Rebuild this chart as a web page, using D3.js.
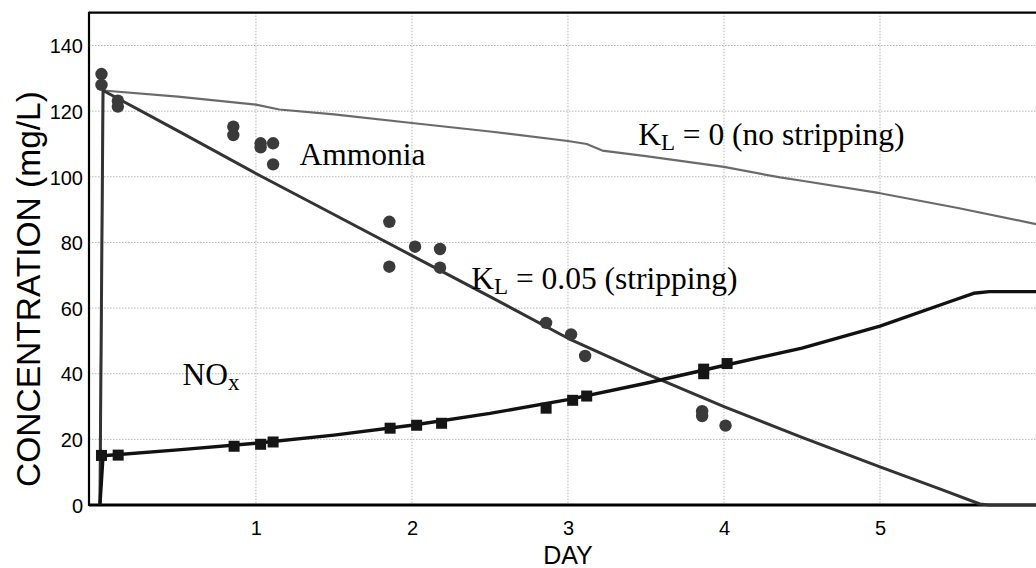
<!DOCTYPE html>
<html>
<head>
<meta charset="utf-8">
<script src="https://cdn.jsdelivr.net/npm/d3@7"></script>
<style>
  html, body { margin: 0; padding: 0; background: #fff; }
  svg { display: block; }
</style>
</head>
<body>
<svg id="chart" width="1036" height="568"></svg>
<script>
// Measured ammonia (circles) and NOx (squares), day vs mg/L
const ammoniaDays = [0.01, 0.01, 0.115, 0.115, 0.855, 0.855, 1.03, 1.03, 1.11, 1.11, 1.855, 1.855, 2.02, 2.18, 2.18, 2.86, 3.02, 3.11, 3.86, 3.86, 4.01];
const ammoniaObs  = [131.3, 128.0, 123.2, 121.4, 115.3, 112.7, 110.2, 109.0, 110.2, 103.8, 86.3, 72.6, 78.7, 78.0, 72.3, 55.5, 52.0, 45.4, 28.6, 27.1, 24.2];

const noxDays = [0.01, 0.117, 0.86, 1.03, 1.11, 1.86, 2.03, 2.19, 2.86, 3.03, 3.12, 3.87, 3.87, 4.02];
const noxObs  = [15.1, 15.2, 17.9, 18.5, 19.2, 23.4, 24.3, 24.9, 29.5, 31.9, 33.2, 40.0, 41.4, 43.1];

// Simulated curves
const simDays      = [0, 0.02, 0.5, 1.0, 1.5, 2.0, 2.5, 3.0, 3.5, 4.0, 4.5, 5.0, 5.4, 5.64, 5.7, 6.0];
const ammoniaKL005 = [0, 126.3, 114, 101, 88.5, 76, 63.5, 50.8, 40, 30, 20.6, 11.6, 4.6, 0.3, 0, 0];

const noStripDays = [0, 0.02, 0.5, 1.0, 1.15, 1.5, 2.0, 2.5, 3.0, 3.12, 3.22, 3.5, 4.0, 4.36, 4.5, 5.0, 5.5, 6.0];
const ammoniaKL0  = [0, 126.3, 124.4, 122.0, 120.5, 119.0, 116.4, 113.8, 110.9, 110.0, 108.0, 106.3, 103.0, 99.8, 98.8, 95.0, 90.5, 85.6];

const noxSimDays = [0, 0.02, 0.5, 1.0, 1.5, 2.0, 2.5, 3.0, 3.5, 4.0, 4.5, 5.0, 5.45, 5.6, 5.7, 6.0];
const noxSim     = [0, 15.0, 16.8, 18.8, 21.3, 24.3, 27.9, 32.1, 37.1, 42.5, 47.8, 54.5, 62.0, 64.5, 65.0, 65.0];

const xTicks = [1, 2, 3, 4, 5];
const yTicks = [0, 20, 40, 60, 80, 100, 120, 140];

const svg = d3.select("#chart");
const plotLeft = 89, plotRight = 1036, plotTop = 12.7, plotBottom = 505;

const x = d3.scaleLinear().domain([-0.07, 6.0]).range([plotLeft, plotRight]);
const y = d3.scaleLinear().domain([0, 150]).range([plotBottom, plotTop]);

// Grid (dotted)
const grid = svg.append("g");
grid.selectAll("line.gx").data(xTicks).join("line")
  .attr("x1", d => x(d)).attr("x2", d => x(d))
  .attr("y1", plotTop).attr("y2", plotBottom)
  .attr("stroke", "#b4b4b4").attr("stroke-width", 1).attr("stroke-dasharray", "1.5,1.5");
grid.selectAll("line.gy").data(yTicks.filter(d => d > 0)).join("line")
  .attr("x1", plotLeft).attr("x2", plotRight)
  .attr("y1", d => y(d)).attr("y2", d => y(d))
  .attr("stroke", "#b4b4b4").attr("stroke-width", 1).attr("stroke-dasharray", "1.5,1.5");

// Axes (labels only; the frame is drawn separately)
const xAxis = d3.axisBottom(x).tickValues(xTicks).tickSize(0).tickPadding(0).tickFormat(d3.format("d"));
const yAxis = d3.axisLeft(y).tickValues(yTicks).tickSize(0).tickPadding(0).tickFormat(d3.format("d"));

const gx = svg.append("g").attr("transform", `translate(0,${plotBottom})`).call(xAxis);
gx.select(".domain").remove();
gx.selectAll("text")
  .attr("y", 30).attr("dy", 0)
  .attr("font-family", "'Liberation Sans', Arial, sans-serif")
  .attr("font-size", 20).attr("fill", "#000");

const gy = svg.append("g").attr("transform", `translate(${plotLeft - 6},0)`).call(yAxis);
gy.select(".domain").remove();
gy.selectAll("text")
  .attr("x", 0).attr("dy", "0.36em")
  .attr("font-family", "'Liberation Sans', Arial, sans-serif")
  .attr("font-size", 20).attr("fill", "#000");

// Frame
svg.append("line").attr("x1", plotLeft).attr("x2", plotRight + 2).attr("y1", plotTop).attr("y2", plotTop)
  .attr("stroke", "#000").attr("stroke-width", 2.2);
svg.append("line").attr("x1", plotLeft).attr("x2", plotLeft).attr("y1", plotTop - 1).attr("y2", plotBottom + 1)
  .attr("stroke", "#000").attr("stroke-width", 2.2);
svg.append("line").attr("x1", plotLeft).attr("x2", plotRight + 2).attr("y1", plotBottom).attr("y2", plotBottom)
  .attr("stroke", "#000").attr("stroke-width", 3);

// Axis titles
svg.append("text")
  .attr("x", x(3.0)).attr("y", 564)
  .attr("text-anchor", "middle")
  .attr("font-family", "'Liberation Sans', Arial, sans-serif")
  .attr("font-size", 25).attr("fill", "#000")
  .text("DAY");
svg.append("text")
  .attr("transform", "translate(40,289) rotate(-90)")
  .attr("text-anchor", "middle")
  .attr("font-family", "'Liberation Sans', Arial, sans-serif")
  .attr("font-size", 33.5).attr("fill", "#000")
  .text("CONCENTRATION (mg/L)");

// Simulated lines
const line = d3.line().x(d => x(d[0])).y(d => y(d[1]));
const plot = svg.append("g");
plot.append("path")
  .datum(d3.zip(noStripDays, ammoniaKL0))
  .attr("d", line).attr("fill", "none")
  .attr("stroke", "#6a6a6a").attr("stroke-width", 2.2).attr("stroke-linejoin", "round");
plot.append("path")
  .datum(d3.zip(simDays, ammoniaKL005))
  .attr("d", line).attr("fill", "none")
  .attr("stroke", "#333").attr("stroke-width", 3).attr("stroke-linejoin", "round");
plot.append("path")
  .datum(d3.zip(noxSimDays, noxSim))
  .attr("d", line).attr("fill", "none")
  .attr("stroke", "#111").attr("stroke-width", 3.4).attr("stroke-linejoin", "round");

// Observations
plot.selectAll("circle.nh3").data(d3.zip(ammoniaDays, ammoniaObs)).join("circle")
  .attr("cx", d => x(d[0])).attr("cy", d => y(d[1])).attr("r", 6.2)
  .attr("fill", "#3a3a3a");
const sq = 11;
plot.selectAll("rect.nox").data(d3.zip(noxDays, noxObs)).join("rect")
  .attr("x", d => x(d[0]) - sq / 2).attr("y", d => y(d[1]) - sq / 2)
  .attr("width", sq).attr("height", sq)
  .attr("fill", "#151515");

// Annotations
const serif = "'Liberation Serif', 'Times New Roman', serif";
function label(day, val, main, sub, rest) {
  const t = svg.append("text")
    .attr("x", x(day)).attr("y", y(val))
    .attr("font-family", serif).attr("font-size", 31.5).attr("fill", "#000");
  t.append("tspan").text(main);
  if (sub) {
    t.append("tspan").attr("font-size", 23).attr("dy", 5).text(sub);
    if (rest) t.append("tspan").attr("dy", -5).text(rest);
  }
}
label(1.28, 103.6, "Ammonia");
label(2.38, 65.7, "K", "L", " = 0.05 (stripping)");
label(3.45, 109.7, "K", "L", " = 0 (no stripping)");
label(0.53, 36.6, "NO", "x");
</script>
</body>
</html>
